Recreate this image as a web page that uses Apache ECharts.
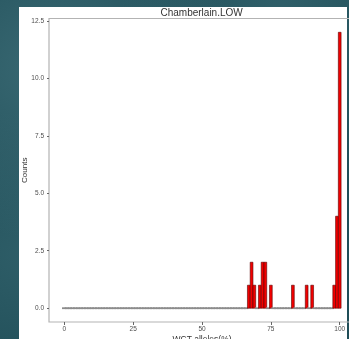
<!DOCTYPE html>
<html>
<head>
<meta charset="utf-8">
<script src="https://cdn.jsdelivr.net/npm/echarts@6/dist/echarts.min.js"></script>
<style>
  html, body {
    margin: 0;
    padding: 0;
  }
  body {
    width: 349px;
    height: 339px;
    overflow: hidden;
    background:
      radial-gradient(ellipse at 15% 20%, rgba(90, 140, 150, 0.45), rgba(0, 0, 0, 0) 45%),
      radial-gradient(ellipse at 10% 75%, rgba(70, 120, 130, 0.4), rgba(0, 0, 0, 0) 40%),
      radial-gradient(ellipse at 80% 5%, rgba(80, 130, 140, 0.35), rgba(0, 0, 0, 0) 40%),
      #1f4d57;
  }
  #chart {
    width: 349px;
    height: 339px;
  }
</style>
</head>
<body>
<div id="chart"></div>
<script>
// histogram bins (binwidth 1, centred on whole percents)
const binRange = [0, 100];
const binWidth = 1;
const binCenters = [67, 68, 69, 71, 72, 73, 75, 83, 88, 90, 98, 99, 100];
const counts = [1, 2, 1, 1, 2, 2, 1, 1, 1, 1, 1, 4, 12];

const xTicks = [0, 25, 50, 75, 100];
const yTicks = [0, 2.5, 5, 7.5, 10, 12.5];

// every bin in the range, empty ones count 0
let bins = [];
for (let c = binRange[0]; c <= binRange[1]; c += binWidth) {
  let i = binCenters.indexOf(c);
  bins.push([c, i >= 0 ? counts[i] : 0]);
}

let font = "'Liberation Sans', Arial, sans-serif";
let myChart = echarts.init(document.getElementById('chart'));

let option = {
  animation: false,
  backgroundColor: 'transparent',
  graphic: [
    {
      type: 'rect',
      z: -10,
      shape: { x: 19, y: 7, width: 328, height: 340 },
      style: { fill: '#ffffff' }
    },
    {
      type: 'text',
      x: 201.6,
      y: 13,
      style: {
        text: 'Chamberlain.LOW',
        fill: '#333333',
        font: '10px ' + font,
        align: 'center',
        verticalAlign: 'middle'
      }
    }
  ],
  grid: {
    left: 49,
    right: -6,
    top: 18.5,
    bottom: 17,
    outerBoundsMode: 'none',
    containLabel: false,
    show: true,
    backgroundColor: 'transparent',
    borderColor: '#b3b3b3',
    borderWidth: 1.2
  },
  xAxis: {
    type: 'value',
    min: -5.55,
    max: 105.55,
    name: 'WCT alleles(%)',
    nameLocation: 'middle',
    nameGap: 13,
    nameMoveOverlap: false,
    nameTextStyle: { fontSize: 8.5, color: '#333333', fontFamily: font },
    axisLine: { show: false, onZero: false },
    splitLine: { show: false },
    axisTick: {
      show: true,
      length: 3,
      customValues: xTicks,
      lineStyle: { color: '#666666', width: 1 }
    },
    axisLabel: {
      customValues: xTicks,
      fontSize: 6.5,
      color: '#4d4d4d',
      fontFamily: font,
      margin: 4
    }
  },
  yAxis: {
    type: 'value',
    min: -0.6,
    max: 12.6,
    name: 'Counts',
    nameLocation: 'middle',
    nameRotate: 90,
    nameGap: 20,
    nameMoveOverlap: false,
    nameTextStyle: { fontSize: 8, color: '#333333', fontFamily: font },
    axisLine: { show: false, onZero: false },
    splitLine: { show: false },
    axisTick: {
      show: true,
      length: 2,
      customValues: yTicks,
      lineStyle: { color: '#666666', width: 1 }
    },
    axisLabel: {
      customValues: yTicks,
      fontSize: 6.5,
      color: '#4d4d4d',
      fontFamily: font,
      margin: 5,
      formatter: function (v) { return v.toFixed(1) }
    }
  },
  series: [
    {
      type: 'custom',
      data: bins,
      renderItem: function (params, api) {
        let c = api.value(0), n = api.value(1);
        let p0 = api.coord([c - binWidth / 2, n]);
        let p1 = api.coord([c + binWidth / 2, 0]);
        if (n === 0) {
          return {
            type: 'line',
            shape: { x1: p0[0], y1: p1[1], x2: p1[0], y2: p1[1] },
            style: { stroke: '#8c8c8c', lineWidth: 1.8, lineCap: 'square' }
          };
        }
        return {
          type: 'rect',
          shape: { x: p0[0], y: p0[1], width: p1[0] - p0[0], height: p1[1] - p0[1] },
          style: { fill: '#f20000', stroke: '#5a0000', lineWidth: 0.6 }
        };
      }
    }
  ]
};
myChart.setOption(option);
</script>
</body>
</html>
